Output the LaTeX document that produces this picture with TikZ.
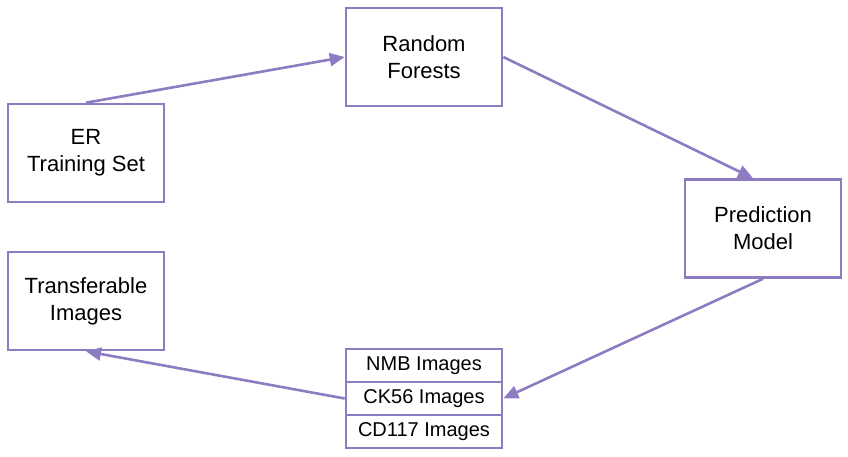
\documentclass[tikz,border=0pt]{standalone}
\usepackage{fontspec}
\setmainfont{Liberation Sans}
\usepackage{xcolor}
\usepackage{tikz}
\usetikzlibrary{arrows.meta, positioning, calc}

\definecolor{flowpurple}{HTML}{8E7CC3}

\begin{document}
\begin{tikzpicture}[x=1pt, y=-1pt,
  box/.style={draw=flowpurple, line width=2.6pt, fill=white, minimum width=156pt,
    minimum height=98pt, inner sep=0pt, align=center,
    font=\fontsize{22}{27}\selectfont},
  cell/.style={draw=flowpurple, line width=2.6pt, fill=white, minimum width=156pt,
    minimum height=33pt, inner sep=0pt, font=\fontsize{20}{24}\selectfont},
  link/.style={draw=flowpurple, line width=2.6pt, -{Triangle[length=15pt, width=13pt]}}]
\useasboundingbox (0,0) rectangle (848,457);

% main steps
\node[box] (er) at (86,153) {ER\\Training Set};
\node[box] (rf) at (424,57) {Random\\Forests};
\node[box] (pm) at (763,228.5) {Prediction\\Model};
\node[box] (ti) at (86,301) {Transferable\\Images};

% image stack
\node[cell] (nmb) at (424,365.5) {NMB Images};
\node[cell] (ck) at (424,398.5) {CK56 Images};
\node[cell] (cd) at (424,431.5) {CD117 Images};

% flow
\draw[link] (er.north) -- (rf.west);
\draw[link] (rf.east) -- ([xshift=-10pt]pm.north);
\draw[link] (pm.south) -- (ck.east);
\draw[link] (ck.west) -- (ti.south);
\end{tikzpicture}
\end{document}
